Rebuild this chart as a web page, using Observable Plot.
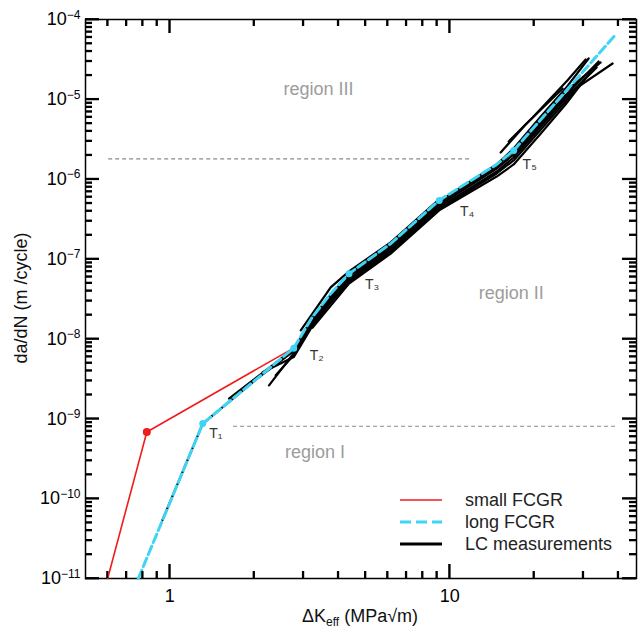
<!DOCTYPE html>
<html>
<head>
<meta charset="utf-8">
<script src="https://cdn.jsdelivr.net/npm/d3@7"></script>
<script src="https://cdn.jsdelivr.net/npm/@observablehq/plot@0.6"></script>
<style>
  html, body { margin: 0; padding: 0; background: #fff; }
  #wrap { position: relative; width: 644px; height: 635px; font-family: "Liberation Sans", Arial, sans-serif; }
  #legend { position: absolute; left: 398px; top: 489px; font-size: 18px; color: #222; }
  #legend .row { display: flex; align-items: center; height: 22px; }
  #legend svg { display: block; margin-right: 23px; }
  #tickOverlay { position: absolute; left: 0; top: 0; pointer-events: none; }
</style>
</head>
<body>
<div id="wrap"></div>
<script>
// ---------- tick values ----------
const xMajorTicks = [1, 10];
const xMinorTicks = [0.6, 0.7, 0.8, 0.9, 2, 3, 4, 5, 6, 7, 8, 9, 20, 30, 40];
const yMajorTicks = [1e-11, 1e-10, 1e-9, 1e-8, 1e-7, 1e-6, 1e-5, 1e-4];
const yMinorMantissas = [2, 3, 4, 5, 6, 7, 8, 9];

// ---------- small FCGR (red) ----------
const smallDK   = [0.6, 0.828, 2.68];
const smallRate = [1e-11, 6.84e-10, 7.2e-9];

// ---------- long FCGR (cyan) ----------
const longDK   = [0.772, 1.312, 2.773, 3.233, 3.758, 4.369, 6.157, 9.173, 14.72, 16.93, 38.9];
const longRate = [1e-11, 8.7e-10, 7.67e-9, 1.88e-8, 3.69e-8, 6.56e-8, 1.56e-7, 5.43e-7, 1.53e-6, 2.29e-6, 6.3e-5];

// transition points T1..T5
const tLabels = ["T\u2081", "T\u2082", "T\u2083", "T\u2084", "T\u2085"];
const tDK     = [1.312, 2.773, 4.369, 9.173, 16.93];
const tRate   = [8.7e-10, 7.67e-9, 6.56e-8, 5.43e-7, 2.29e-6];

// ---------- LC measurements (black), [dK, da/dN] ----------
const lc0 = [[0.942, 5.4e-11], [1.312, 8.7e-10], [2.773, 7.67e-9]];
const lcA = [[1.628, 1.79e-9], [2.773, 7.46e-9], [3.233, 1.83e-8], [3.758, 3.58e-8], [4.369, 6.37e-8], [6.157, 1.51e-7], [9.173, 5.28e-7], [14.72, 1.53e-6], [16.93, 2.43e-6], [21.13, 6.06e-6], [25.97, 1.375e-5], [31.36, 3.25e-5]];
const lcB = [[1.974, 2.89e-9], [2.773, 7.04e-9], [3.233, 1.72e-8], [3.758, 3.38e-8], [4.369, 6.02e-8], [6.157, 1.43e-7], [9.173, 4.98e-7], [14.72, 1.45e-6], [16.93, 2.23e-6], [21.13, 5.56e-6], [25.97, 1.26e-5], [34.62, 2.90e-5]];
const lcC = [[2.263, 2.62e-9], [2.773, 6.64e-9], [3.233, 1.63e-8], [3.758, 3.20e-8], [4.369, 5.68e-8], [6.157, 1.35e-7], [9.173, 4.70e-7], [14.72, 1.36e-6], [16.93, 2.04e-6], [21.13, 5.10e-6], [25.97, 1.12e-5], [38.2, 2.81e-5]];
const lcD = [[2.391, 3.50e-9], [2.773, 6.27e-9], [3.233, 1.54e-8], [3.758, 3.02e-8], [4.369, 5.36e-8], [6.157, 1.27e-7], [9.173, 4.44e-7], [14.72, 1.25e-6], [16.93, 1.87e-6], [21.13, 4.54e-6], [25.97, 1.03e-5], [33.5, 2.51e-5]];
const lcE = [[2.148, 3.82e-9], [2.773, 5.92e-9], [3.233, 1.45e-8], [3.758, 2.85e-8], [4.369, 5.06e-8], [6.157, 1.20e-7], [9.173, 4.19e-7], [14.72, 1.18e-6], [16.93, 1.72e-6], [21.13, 4.17e-6], [25.97, 9.46e-6], [31.88, 2.17e-5]];
const lcF = [[3.233, 1.38e-8], [4.369, 4.92e-8], [6.157, 1.17e-7], [9.173, 4.07e-7], [14.72, 1.08e-6], [16.93, 1.53e-6], [21.13, 3.71e-6], [25.97, 8.68e-6], [30.6, 1.83e-5]];
const lcG = [[2.938, 1.28e-8], [3.758, 4.43e-8], [4.369, 7.01e-8], [6.157, 1.62e-7], [9.173, 5.58e-7]];
const lcH = [[16.25, 2.97e-6], [19.79, 5.93e-6], [26.33, 1.72e-5], [30.6, 3.16e-5]];
const lcI = [[15.21, 2.16e-6], [18.68, 4.85e-6], [25.32, 1.37e-5]];
const lcJ = [[16.93, 1.93e-6], [21.13, 4.85e-6], [25.97, 1.12e-5], [34.05, 2.98e-5]];

// ---------- region boundaries and labels ----------
const boundaryRate = [1.8e-6, 8.05e-10];
const boundaryFrom = [0.605, 1.69];
const boundaryTo   = [11.9, 39.8];
const regionNames = ["region III", "region II", "region I"];
const regionDK    = [3.4, 16.6, 3.3];
const regionRate  = [1.33e-5, 3.7e-8, 3.8e-10];

const legendLabels = ["small FCGR", "long FCGR", "LC measurements"];

// ---------- build tables ----------
const RED = "#f01c1c", CYAN = "#3fd4f4";
const small = smallDK.map((d, i) => ({dK: d, rate: smallRate[i]}));
const long = longDK.map((d, i) => ({dK: d, rate: longRate[i]}));
const tPts = tDK.map((d, i) => ({dK: d, rate: tRate[i], label: tLabels[i]}));
const lcAll = [lc0, lcA, lcB, lcC, lcD, lcE, lcF, lcG, lcH, lcI, lcJ]
  .flatMap((c, id) => c.map(([dK, rate]) => ({id, dK, rate})));
const boundaries = boundaryRate.map((r, i) => ({rate: r, x1: boundaryFrom[i], x2: boundaryTo[i]}));
const regions = regionNames.map((n, i) => ({name: n, dK: regionDK[i], rate: regionRate[i]}));
const yMinorTicks = yMajorTicks.slice(0, -1).flatMap(d => yMinorMantissas.map(m => m * d));

const tOff = [[13, 10], [23, 7], [23, 11], [28, 11], [16, 14]];

const M = {left: 85, right: 8, top: 19, bottom: 57};
const W = 644, H = 635;
const PW = W - M.left - M.right, PH = H - M.top - M.bottom;
const TICK = {stroke: "#000000", strokeWidth: 1.8};

const plot = Plot.plot({
  width: W,
  height: H,
  marginLeft: M.left,
  marginRight: M.right,
  marginTop: M.top,
  marginBottom: M.bottom,
  style: {fontFamily: "'Liberation Sans', Arial, sans-serif", fontSize: "18px"},
  x: {type: "log", domain: [0.5, 46.5]},
  y: {type: "log", domain: [1e-11, 1e-4]},
  marks: [
    Plot.frame({stroke: "#000000", strokeWidth: 1.5}),
    // inward ticks (rules shortened by insets)
    Plot.ruleX(xMajorTicks, {x: d => d, insetTop: PH - 14, ...TICK}),
    Plot.ruleX(xMinorTicks, {x: d => d, insetTop: PH - 7, ...TICK}),
    Plot.ruleX(xMajorTicks, {x: d => d, insetBottom: PH - 14, ...TICK}),
    Plot.ruleX(xMinorTicks, {x: d => d, insetBottom: PH - 7, ...TICK}),
    Plot.ruleY(yMajorTicks, {y: d => d, insetRight: PW - 14, ...TICK}),
    Plot.ruleY(yMinorTicks, {y: d => d, insetRight: PW - 7, ...TICK}),
    Plot.ruleY(yMajorTicks, {y: d => d, insetLeft: PW - 14, ...TICK}),
    Plot.ruleY(yMinorTicks, {y: d => d, insetLeft: PW - 7, ...TICK}),
    // region boundaries
    Plot.ruleY(boundaries, {y: "rate", x1: "x1", x2: "x2", stroke: "#8a8a8a", strokeWidth: 1.1, strokeDasharray: "4,3"}),
    Plot.text(regions, {x: "dK", y: "rate", text: "name", fill: "#9c9c9c", fontSize: 18}),
    // LC measurements
    Plot.line(lcAll, {x: "dK", y: "rate", z: "id", stroke: "#000", strokeWidth: 2.2}),
    // small FCGR
    Plot.line(small, {x: "dK", y: "rate", stroke: RED, strokeWidth: 1.6}),
    Plot.dot([small[1]], {x: "dK", y: "rate", r: 4, fill: RED}),
    // long FCGR
    Plot.line(long, {x: "dK", y: "rate", stroke: CYAN, strokeWidth: 3, strokeDasharray: "9,4"}),
    Plot.dot(tPts, {x: "dK", y: "rate", r: 3.5, fill: CYAN}),
    ...tPts.map((p, i) => Plot.text([p], {x: "dK", y: "rate", text: "label", fontSize: 14, fill: "#333", dx: tOff[i][0], dy: tOff[i][1]})),
    // tick labels
    Plot.axisX({anchor: "bottom", ticks: xMajorTicks, tickSize: 0, tickPadding: 11, tickFormat: d => String(d), label: null, fontSize: 18}),
    Plot.axisY({anchor: "left", ticks: yMajorTicks, tickSize: 0, tickPadding: 5, tickFormat: d => String(Math.round(Math.log10(d))), label: null, fontSize: 18})
  ]
});

document.getElementById("wrap").appendChild(plot);
const svg = d3.select(plot);

// superscript exponents on y tick labels
svg.selectAll('g[aria-label="y-axis tick label"] text').each(function () {
  const t = d3.select(this);
  const e = t.text();
  if (!e) return;
  t.text("");
  t.append("tspan").text("10");
  t.append("tspan").attr("dy", "-0.55em").attr("font-size", "12px").text(e.replace("-", "\u2212"));
});

// axis titles
svg.append("text")
  .attr("transform", "translate(21,298) rotate(-90)")
  .attr("text-anchor", "middle")
  .attr("dominant-baseline", "central")
  .attr("font-size", 18)
  .attr("fill", "#111")
  .text("da/dN (m /cycle)");
const xl = svg.append("text")
  .attr("x", 360).attr("y", 622)
  .attr("text-anchor", "middle")
  .attr("font-size", 18)
  .attr("fill", "#111");
xl.append("tspan").text("\u0394K");
xl.append("tspan").attr("font-size", 12).attr("dy", 4).text("eff");
xl.append("tspan").attr("dy", -4).text(" (MPa\u221Am)");

// overlay copy of the inward ticks, placed with Plot's own scales
const sx = plot.scale("x"), sy = plot.scale("y");
const ov = d3.select("#wrap").append("svg").attr("id", "tickOverlay").attr("width", W).attr("height", H);
const xb = M.left, xe = W - M.right, yt = M.top, yb = H - M.bottom;
function addX(v, len) {
  const p = sx.apply(v);
  ov.append("line").attr("x1", p).attr("x2", p).attr("y1", yb).attr("y2", yb - len).attr("stroke", "#000").attr("stroke-width", 1.8);
  ov.append("line").attr("x1", p).attr("x2", p).attr("y1", yt).attr("y2", yt + len).attr("stroke", "#000").attr("stroke-width", 1.8);
}
function addY(v, len) {
  const p = sy.apply(v);
  ov.append("line").attr("y1", p).attr("y2", p).attr("x1", xb).attr("x2", xb + len).attr("stroke", "#000").attr("stroke-width", 1.8);
  ov.append("line").attr("y1", p).attr("y2", p).attr("x1", xe).attr("x2", xe - len).attr("stroke", "#000").attr("stroke-width", 1.8);
}
xMajorTicks.forEach(v => addX(v, 14));
xMinorTicks.forEach(v => addX(v, 7));
yMajorTicks.forEach(v => addY(v, 14));
yMinorTicks.forEach(v => addY(v, 7));

// legend
const legend = d3.select("#wrap").append("div").attr("id", "legend");
const swatches = [
  {stroke: RED, width: 1.6, dash: null},
  {stroke: CYAN, width: 3, dash: "11,5"},
  {stroke: "#000", width: 3, dash: null}
];
legendLabels.forEach((lab, i) => {
  const row = legend.append("div").attr("class", "row");
  const s = row.append("svg").attr("width", 44).attr("height", 22);
  s.append("line").attr("x1", 2).attr("x2", 44).attr("y1", 11).attr("y2", 11)
    .attr("stroke", swatches[i].stroke).attr("stroke-width", swatches[i].width)
    .attr("stroke-dasharray", swatches[i].dash);
  row.append("span").text(lab);
});
</script>
</body>
</html>
